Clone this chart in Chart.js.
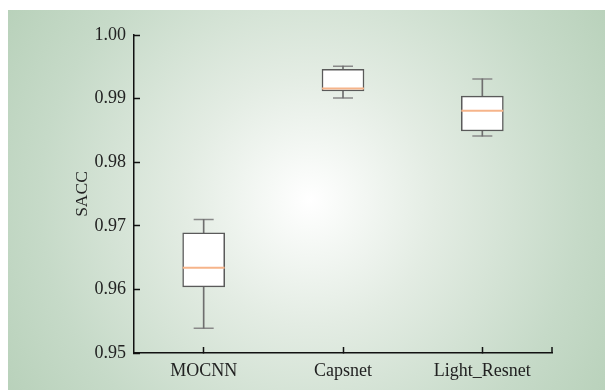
<!DOCTYPE html>
<html>
<head>
<meta charset="utf-8">
<script src="https://cdn.jsdelivr.net/npm/chart.js@4/dist/chart.umd.min.js"></script>
<style>
  html, body { margin: 0; padding: 0; background: #fff; }
</style>
</head>
<body>
<canvas id="myChart" width="605" height="390"></canvas>
<script>
var categories = ["MOCNN", "Capsnet", "Light_Resnet"];
var whiskerMin = [0.9539, 0.9901, 0.9841];
var boxQ1 = [0.9604, 0.9912, 0.9849];
var medians = [0.9634, 0.9916, 0.9881];
var boxQ3 = [0.9689, 0.9946, 0.9904];
var whiskerMax = [0.9710, 0.9951, 0.9931];
var yTicks = [0.95, 0.96, 0.97, 0.98, 0.99, 1.00];

var serif = "'Liberation Serif', 'Times New Roman', serif";

function pairs(a, b) {
    var out = [];
    for (var i = 0; i < a.length; i++) out.push([a[i], b[i]]);
    return out;
}

// background panel with soft radial gradient
var backdrop = {
    id: 'backdrop',
    beforeDraw: function (chart) {
        var ctx = chart.ctx;
        ctx.save();
        ctx.fillStyle = '#ffffff';
        ctx.fillRect(0, 0, chart.width, chart.height);
        var g = ctx.createRadialGradient(310, 200, 0, 310, 200, 360);
        g.addColorStop(0, '#ffffff');
        g.addColorStop(0.35, '#e3ece3');
        g.addColorStop(0.75, '#c6dac8');
        g.addColorStop(1, '#b8d1ba');
        ctx.fillStyle = g;
        ctx.fillRect(8, 10, chart.width - 8, chart.height - 10);
        ctx.restore();
    },
    afterDraw: function (chart) {
        // little end tick at the right of the x axis
        var ctx = chart.ctx, a = chart.chartArea;
        ctx.save();
        ctx.strokeStyle = '#111';
        ctx.lineWidth = 1.5;
        ctx.beginPath();
        ctx.moveTo(a.right, a.bottom);
        ctx.lineTo(a.right, a.bottom - 6);
        ctx.stroke();
        ctx.restore();
    }
};

var ctx = document.getElementById("myChart").getContext('2d');
var myChart = new Chart(ctx, {
    type: 'bar',
    data: {
        labels: categories,
        datasets: [{
            type: 'line',
            data: medians,
            showLine: false,
            pointStyle: 'line',
            pointRadius: 21,
            pointBorderColor: '#f6b48a',
            pointBorderWidth: 2,
            order: 0
        }, {
            data: pairs(boxQ1, boxQ3),
            backgroundColor: '#ffffff',
            borderColor: '#5a5a5a',
            borderWidth: 1.5,
            borderSkipped: false,
            barThickness: 42,
            grouped: false,
            order: 1
        }, {
            data: pairs(whiskerMin, boxQ1),
            backgroundColor: '#6e6e6e',
            barThickness: 1,
            grouped: false,
            order: 2
        }, {
            data: pairs(boxQ3, whiskerMax),
            backgroundColor: '#6e6e6e',
            barThickness: 1,
            grouped: false,
            order: 2
        }, {
            type: 'line',
            data: whiskerMin,
            showLine: false,
            pointStyle: 'line',
            pointRadius: 10,
            pointBorderColor: '#888888',
            pointBorderWidth: 1.5,
            order: 2
        }, {
            type: 'line',
            data: whiskerMax,
            showLine: false,
            pointStyle: 'line',
            pointRadius: 10,
            pointBorderColor: '#888888',
            pointBorderWidth: 1.5,
            order: 2
        }]
    },
    options: {
        responsive: false,
        animation: false,
        events: [],
        layout: { padding: { left: 72, top: 35, right: 53, bottom: 0 } },
        plugins: { legend: { display: false }, tooltip: { enabled: false } },
        scales: {
            x: {
                afterFit: function (s) { s.height = 37; },
                grid: { drawOnChartArea: false, offset: false, tickLength: -6, tickColor: '#111', tickWidth: 1.5 },
                border: { color: '#111', width: 1.5 },
                ticks: { color: '#222', padding: 13, font: { family: serif, size: 18 } }
            },
            y: {
                min: 0.95,
                max: 1.00,
                afterFit: function (s) { s.width = 62; },
                afterBuildTicks: function (s) {
                    s.ticks = yTicks.map(function (v) { return { value: v }; });
                },
                grid: { drawOnChartArea: false, tickLength: -6, tickColor: '#111', tickWidth: 1.5 },
                border: { color: '#111', width: 1.5 },
                ticks: {
                    color: '#222',
                    padding: 14,
                    font: { family: serif, size: 18 },
                    callback: function (v) { return Number(v).toFixed(2); }
                },
                title: {
                    display: true,
                    text: 'SACC',
                    color: '#222',
                    padding: 0,
                    font: { family: serif, size: 17.5 }
                }
            }
        }
    },
    plugins: [backdrop]
});
</script>
</body>
</html>
